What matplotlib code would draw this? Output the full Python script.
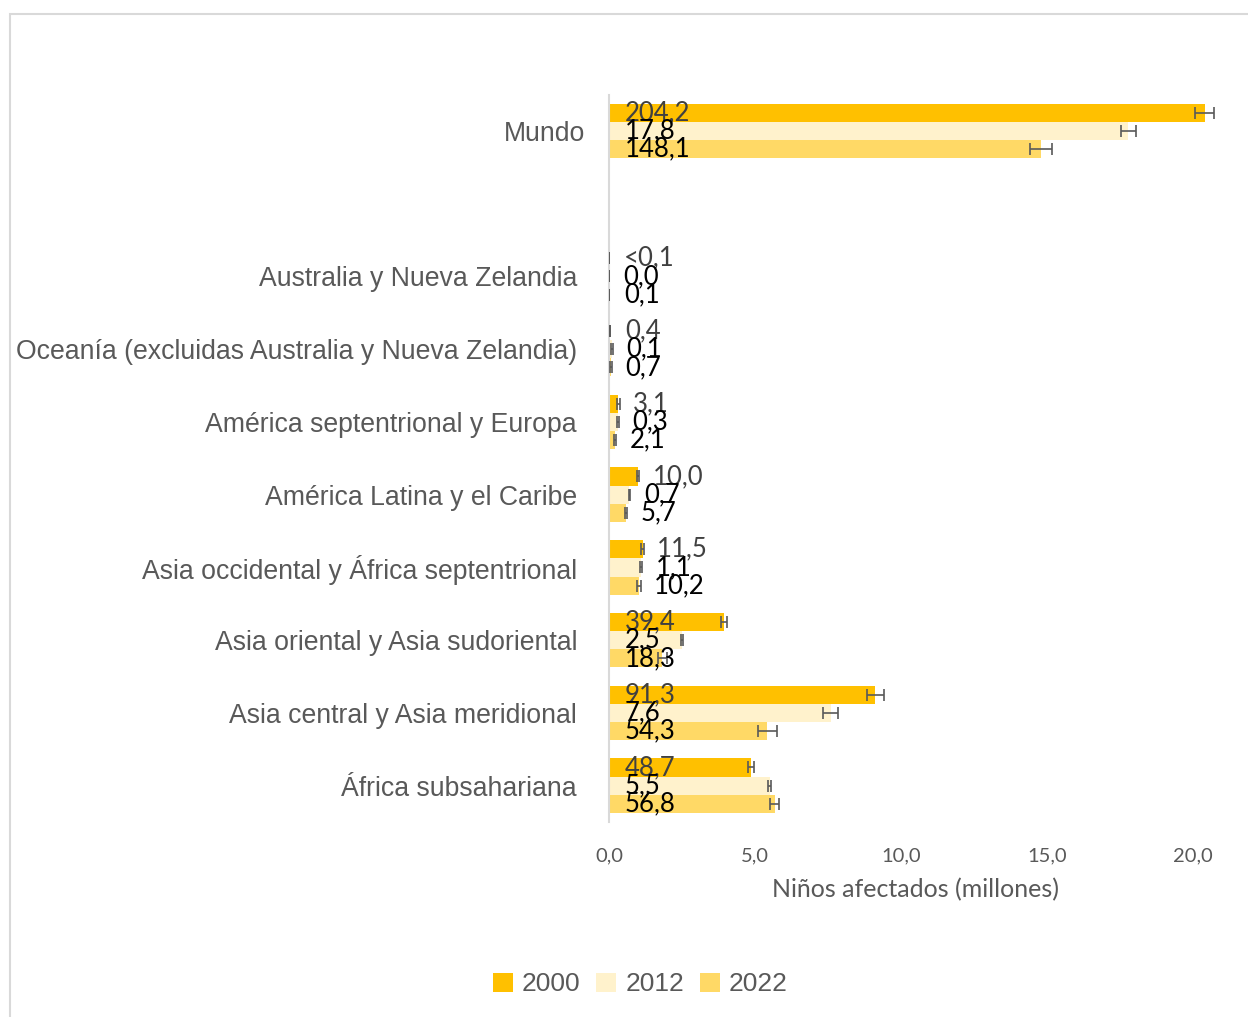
import matplotlib.pyplot as plt
import matplotlib.patches as patches
import matplotlib.transforms as mtransforms
import numpy as np

# regions, bottom to top (empty slot between Australia and Mundo)
regiones = ['África subsahariana', 'Asia central y Asia meridional', 'Asia oriental y Asia sudoriental',
            'Asia occidental y África septentrional', 'América Latina y el Caribe',
            'América septentrional y Europa', 'Oceanía (excluidas Australia y Nueva Zelandia)',
            'Australia y Nueva Zelandia', '', 'Mundo']

# bar lengths as drawn in the chart
v2000 = [4.87, 9.13, 3.94, 1.15, 1.00, 0.31, 0.04, 0.01, np.nan, 20.42]
v2012 = [5.5, 7.6, 2.5, 1.1, 0.7, 0.3, 0.1, 0.0, np.nan, 17.8]
v2022 = [5.68, 5.43, 1.83, 1.02, 0.57, 0.21, 0.07, 0.01, np.nan, 14.81]

# error bars
e2000 = [0.1, 0.3, 0.1, 0.05, 0.03, 0.05, 0.0, 0.0, np.nan, 0.33]
e2012 = [0.05, 0.25, 0.05, 0.04, 0.03, 0.04, 0.02, 0.0, np.nan, 0.27]
e2022 = [0.15, 0.32, 0.15, 0.06, 0.03, 0.04, 0.02, 0.0, np.nan, 0.38]

# data labels as printed
l2000 = ['48,7', '91,3', '39,4', '11,5', '10,0', '3,1', '0,4', '<0,1', '', '204,2']
l2012 = ['5,5', '7,6', '2,5', '1,1', '0,7', '0,3', '0,1', '0,0', '', '17,8']
l2022 = ['56,8', '54,3', '18,3', '10,2', '5,7', '2,1', '0,7', '0,1', '', '148,1']

series = [('2000', v2000, e2000, l2000, '#FFC000', '#404040', 0.25),
          ('2012', v2012, e2012, l2012, '#FFF2CC', '#000000', 0.0),
          ('2022', v2022, e2022, l2022, '#FFD966', '#000000', -0.25)]

narrow = ['Lato', 'DejaVu Sans']
arial = ['Liberation Sans', 'DejaVu Sans']

fig = plt.figure(figsize=(12.48, 10.17), dpi=100)
ax = fig.add_axes([0.488, 0.1917, 0.491, 0.7153])
y = np.arange(len(regiones))

for name, vals, errs, labs, col, tcol, off in series:
    ax.barh(y + off, vals, height=0.25, color=col, label=name, zorder=2)
    ax.errorbar(vals, y + off, xerr=errs, fmt='none', ecolor='#595959',
                elinewidth=1.2, capsize=4, capthick=1.2, zorder=3)
    for yi, v, t in zip(y, vals, labs):
        if t == '':
            continue
        # short bars get their label past the end, long ones inside the base
        x = v + 0.5 if v < 1.5 else 0.55
        ax.text(x, yi + off, t, ha='left', va='center', fontsize=18.5,
                color=tcol, family=narrow, zorder=4)

ax.set_xlim(0, 21)
ax.set_ylim(-0.5, 9.5)
ax.set_xticks([0, 5, 10, 15, 20])
ax.set_xticklabels(['0,0', '5,0', '10,0', '15,0', '20,0'], family=narrow,
                   fontsize=14.5, color='#595959')
ax.set_yticks(y)
ax.set_yticklabels(regiones, family=arial, fontsize=19.2, color='#595959')
ax.tick_params(length=0)
ax.tick_params(axis='x', pad=18)
ax.tick_params(axis='y', pad=23)
# Mundo label sits a bit closer to the axis
mundo = ax.get_yticklabels()[-1]
mundo.set_transform(mundo.get_transform() + mtransforms.ScaledTranslation(0.08, 0, fig.dpi_scale_trans))
for s in ['top', 'right', 'bottom']:
    ax.spines[s].set_visible(False)
ax.spines['left'].set_color('#D9D9D9')
ax.spines['left'].set_linewidth(1.5)
ax.set_xlabel('Niños afectados (millones)', family=narrow, fontsize=18,
              color='#595959', labelpad=10)

leg = fig.legend(loc='center', bbox_to_anchor=(0.513, 0.032), ncol=3, frameon=False,
                 prop={'family': arial, 'size': 19}, handlelength=0.75,
                 handleheight=0.75, handletextpad=0.35, columnspacing=0.6)
for t in leg.get_texts():
    t.set_color('#595959')

fig.patches.append(patches.Rectangle((0.008, -0.01), 1.0, 0.996, transform=fig.transFigure,
                                     fill=False, edgecolor='#D9D9D9', linewidth=1.5))

fig.savefig('out.png', dpi=100)
